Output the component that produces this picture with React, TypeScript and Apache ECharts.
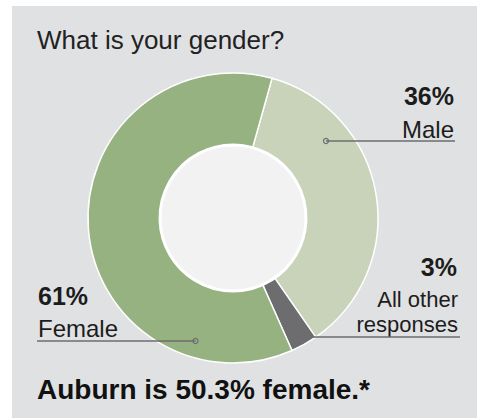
import React, { useEffect, useRef } from "react";
import * as echarts from "echarts";

const title = "What is your gender?";
const footnote = "Auburn is 50.3% female.*";
const categories = ["Male", "All other\nresponses", "Female"];
const values = [36, 3, 61];
const sliceColors = ["#c8d3ba", "#6d6d70", "#95b280"];

const FONT = "'Liberation Sans', Arial, Helvetica, sans-serif";

export default function App() {
  const ref = useRef<HTMLDivElement>(null);
  useEffect(() => {
    if (!ref.current) return;
    const chart = echarts.init(ref.current, undefined, { renderer: "svg" });
    const lineColor = "#6d6d70";
    const textColor = "#1c1c1c";
    const pct = (i: number) => `${values[i]}%`;
    const txt = (text: string, x: number, y: number, size: number, bold: boolean, align: string, extra: any = {}) => ({
      type: "text",
      z: 100,
      style: {
        text,
        x,
        y,
        font: `${bold ? "bold " : ""}${size}px ${FONT}`,
        fill: textColor,
        textAlign: align,
        textVerticalAlign: "middle",
        ...extra,
      },
    });
    const under = (x1: number, x2: number, y: number) => ({
      type: "line",
      z: 100,
      shape: { x1, y1: y, x2, y2: y },
      style: { stroke: lineColor, lineWidth: 1.5 },
    });
    const marker = (x: number, y: number) => ({
      type: "circle",
      z: 101,
      shape: { cx: x, cy: y, r: 2.5 },
      style: { fill: "none", stroke: lineColor, lineWidth: 1.2 },
    });
    const otherLines = categories[1].split("\n");
    chart.setOption({
      animation: false,
      backgroundColor: "#ffffff",
      graphic: [
        { type: "rect", z: 0, shape: { x: 12, y: 6, width: 465, height: 412 }, style: { fill: "#e0e1e3" } },
        txt(title, 37, 40.2, 26, false, "left", { fill: "#222222" }),
        txt(footnote, 37, 389.5, 28, true, "left", { fill: "#111111" }),
        // Male
        txt(pct(0), 454, 96.3, 25, true, "right"),
        txt(categories[0], 454, 129.6, 24, false, "right"),
        under(326, 455, 141),
        marker(326, 141),
        // All other
        txt(pct(1), 457, 267.3, 25, true, "right"),
        txt(otherLines[0], 458, 299.3, 22, false, "right"),
        txt(otherLines[1], 458, 324.6, 22, false, "right"),
        under(313, 460, 337),
        // Female
        txt(pct(2), 38, 296.3, 25, true, "left"),
        txt(categories[2], 38, 328.6, 24, false, "left"),
        under(37, 195.5, 341),
        marker(195.5, 341),
      ],
      series: [
        {
          type: "pie",
          center: [233, 218],
          radius: [72, 145],
          startAngle: 74.4,
          clockwise: true,
          silent: true,
          label: { show: false },
          labelLine: { show: false },
          itemStyle: { borderColor: "#ffffff", borderWidth: 1.5 },
          data: categories.map((c, i) => ({
            name: c,
            value: values[i],
            itemStyle: { color: sliceColors[i] },
          })),
        },
        {
          type: "pie",
          center: [233, 218],
          radius: [0, 73],
          silent: true,
          label: { show: false },
          labelLine: { show: false },
          itemStyle: { color: "#f2f2f2", borderColor: "#ffffff", borderWidth: 3 },
          data: [{ name: "inner", value: 1 }],
        },
      ],
    });
    return () => chart.dispose();
  }, []);
  return (
    <div style={{ position: "fixed", left: 0, top: 0, width: 477, height: 418, background: "#fff" }}>
      <div ref={ref} style={{ width: 477, height: 418 }} />
    </div>
  );
}
